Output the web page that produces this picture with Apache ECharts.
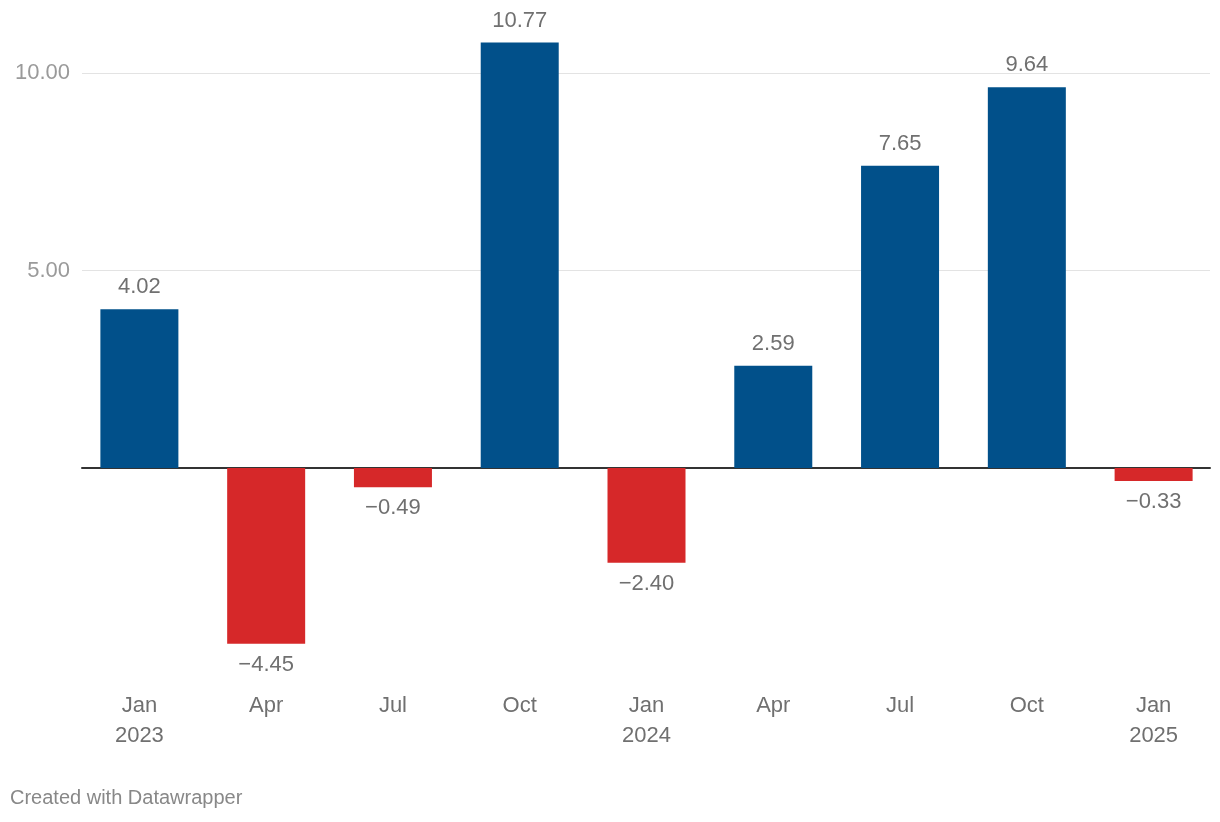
<!DOCTYPE html>
<html>
<head>
<meta charset="utf-8">
<script src="https://cdn.jsdelivr.net/npm/echarts@6/dist/echarts.min.js"></script>
<style>
html,body{margin:0;padding:0;background:#fff;}
#chart{width:1220px;height:822px;}
</style>
</head>
<body>
<div id="chart"></div>
<script>
const categories = ['Jan\n2023','Apr','Jul','Oct','Jan\n2024','Apr','Jul','Oct','Jan\n2025'];
const values = [4.02, -4.45, -0.49, 10.77, -2.40, 2.59, 7.65, 9.64, -0.33];
const yTicks = [5, 10];

const BLUE = '#01508a';
const RED = '#d62829';
const FONT = '"Liberation Sans", Arial, Helvetica, sans-serif';
const fmt = v => v.toFixed(2).replace('-', '\u2212');

const chart = echarts.init(document.getElementById('chart'), null, {renderer: 'canvas'});
const yMin = -5, yMax = 11;
const gridTop = 33.5, gridBottom = 156.5;

chart.setOption({
  animation: false,
  backgroundColor: '#fff',
  textStyle: {fontFamily: FONT},
  grid: [
    {left: 82, right: 10, top: gridTop, bottom: gridBottom, containLabel: false},
    {left: 76, right: 3, top: gridTop, bottom: gridBottom, containLabel: false}
  ],
  xAxis: [
    {gridIndex: 0, type: 'value', min: 0, max: 1, show: true,
     axisLine: {show: true, onZero: true, lineStyle: {color: '#333', width: 2}},
     axisTick: {show: false}, axisLabel: {show: false}, splitLine: {show: false}},
    {gridIndex: 1, type: 'category', data: categories,
     axisLine: {show: false, onZero: false}, axisTick: {show: false},
     axisLabel: {color: '#707070', fontSize: 22, lineHeight: 30, margin: 25, fontFamily: FONT, interval: 0}}
  ],
  yAxis: [
    {gridIndex: 0, type: 'value', min: yMin, max: yMax, interval: 5,
     axisLine: {show: false}, axisTick: {show: false},
     axisLabel: {color: '#9a9a9a', fontSize: 22, margin: 12, fontFamily: FONT,
       formatter: v => yTicks.includes(v) ? v.toFixed(2) : ''},
     splitLine: {show: true, lineStyle: {color: ['rgba(0,0,0,0)','rgba(0,0,0,0)','#e3e3e3','#e3e3e3','rgba(0,0,0,0)'], width: 1}}},
    {gridIndex: 1, type: 'value', min: yMin, max: yMax, interval: 5, show: false,
     splitLine: {show: false}}
  ],
  series: [{
    type: 'bar',
    xAxisIndex: 1, yAxisIndex: 1,
    barWidth: 78,
    data: values.map(v => ({
      value: v,
      itemStyle: {color: v >= 0 ? BLUE : RED},
      label: {position: v >= 0 ? 'top' : 'bottom', distance: v >= 0 ? 11 : 10}
    })),
    label: {show: true, color: '#707070', fontSize: 22, fontFamily: FONT,
      formatter: p => fmt(p.value)},
    z: 3
  }],
  graphic: [{
    type: 'text', left: 10, top: 788,
    style: {text: 'Created with Datawrapper', fill: '#888', fontSize: 20, fontFamily: FONT}
  }]
});
</script>
</body>
</html>
